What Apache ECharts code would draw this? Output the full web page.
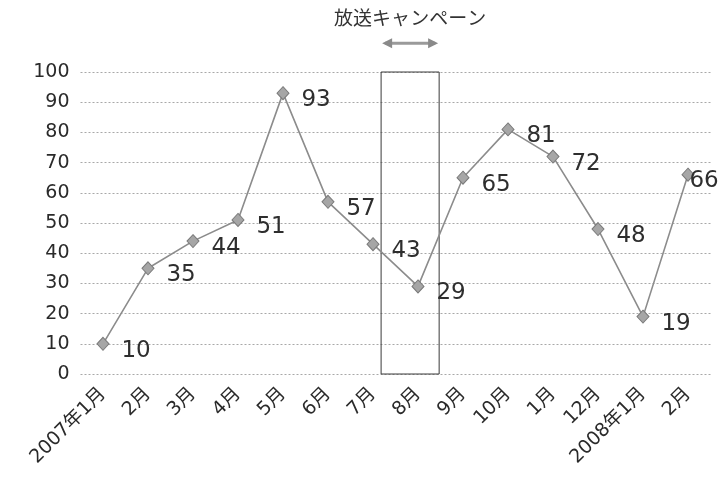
<!DOCTYPE html>
<html>
<head>
<meta charset="utf-8">
<script src="https://cdn.jsdelivr.net/npm/echarts@6/dist/echarts.min.js"></script>
<style>
  html, body { margin: 0; padding: 0; background: #fff; }
  #chart { width: 728px; height: 485px; }
</style>
</head>
<body>
<div id="chart"></div>
<script>
// Monthly values, Jan 2007 – Feb 2008
const months = ['2007年1月', '2月', '3月', '4月', '5月', '6月', '7月', '8月', '9月', '10月', '1月', '12月', '2008年1月', '2月'];
const values = [10, 35, 44, 51, 93, 57, 43, 29, 65, 81, 72, 48, 19, 66];
const yTicks = [0, 10, 20, 30, 40, 50, 60, 70, 80, 90, 100];

// Broadcast campaign period, in month-slot units along the category axis (0 = left edge)
const campaignSpan = [6.68, 7.97];
const campaignTitle = '放送キャンペーン';

const numFont = '"DejaVu Sans", "Noto Sans CJK JP", sans-serif';
const chart = echarts.init(document.getElementById('chart'), null, { renderer: 'canvas' });

const lastIdx = values.length - 1;
const seriesData = values.map((v, i) => i === lastIdx
  ? { value: v, label: { offset: [-17, 6] } }
  : v);

chart.setOption({
  animation: false,
  backgroundColor: '#fff',
  grid: { left: 80.5, right: 17.5, top: 72, bottom: 111 },
  xAxis: [
    {
      type: 'category',
      data: months,
      boundaryGap: true,
      axisLine: { show: false },
      axisTick: { show: false },
      axisLabel: {
        interval: 0, rotate: 45, margin: 17,
        fontSize: 19, color: '#2a2a2a', fontFamily: numFont
      },
      splitLine: { show: false }
    },
    {
      // slot scale used to place the campaign box
      type: 'value', min: 0, max: months.length, show: false
    }
  ],
  yAxis: {
    type: 'value',
    min: yTicks[0], max: yTicks[yTicks.length - 1], interval: 10,
    axisLine: { show: false },
    axisTick: { show: false },
    axisLabel: { fontSize: 19, color: '#2a2a2a', margin: 11, fontFamily: numFont },
    splitLine: { lineStyle: { color: '#a8a8a8', type: [2, 2], width: 1 } }
  },
  series: [
    {
      type: 'line',
      xAxisIndex: 1,
      data: [],
      silent: true,
      markArea: {
        silent: true,
        itemStyle: { color: 'rgba(0,0,0,0)', borderColor: '#3a3a3a', borderWidth: 1 },
        data: [[{ xAxis: campaignSpan[0], yAxis: 0 }, { xAxis: campaignSpan[1], yAxis: 100 }]]
      }
    },
    {
      type: 'line',
      data: seriesData,
      symbol: 'diamond',
      symbolSize: [12, 13],
      lineStyle: { color: '#8c8c8c', width: 1.6 },
      itemStyle: { color: '#a6a6a6', borderColor: '#7a7a7a', borderWidth: 1 },
      label: {
        show: true, position: 'right', distance: 12, offset: [0, 7],
        fontSize: 23, color: '#2e2e2e', fontFamily: numFont
      },
      z: 5
    }
  ]
});

// Campaign title and double-headed arrow above the box, placed via the slot scale
const xL = chart.convertToPixel({ xAxisIndex: 1 }, campaignSpan[0]);
const xR = chart.convertToPixel({ xAxisIndex: 1 }, campaignSpan[1]);
const xMid = (xL + xR) / 2;
const yArrow = chart.convertToPixel({ yAxisIndex: 0 }, 109.5);
const yTitle = chart.convertToPixel({ yAxisIndex: 0 }, 117.8);
const head = 10, half = 5;
chart.setOption({
  graphic: [
    {
      type: 'line',
      shape: { x1: xL + 4, y1: yArrow, x2: xR - 4, y2: yArrow },
      style: { stroke: '#9a9a9a', lineWidth: 3 }
    },
    {
      type: 'polygon',
      shape: { points: [[xL + 1, yArrow], [xL + 1 + head, yArrow - half], [xL + 1 + head, yArrow + half]] },
      style: { fill: '#8a8a8a' }
    },
    {
      type: 'polygon',
      shape: { points: [[xR - 1, yArrow], [xR - 1 - head, yArrow - half], [xR - 1 - head, yArrow + half]] },
      style: { fill: '#8a8a8a' }
    },
    {
      type: 'text',
      x: xMid, y: yTitle,
      style: {
        text: campaignTitle, align: 'center', verticalAlign: 'middle',
        fontSize: 19, fill: '#333', fontFamily: '"Noto Sans CJK JP", sans-serif'
      }
    }
  ]
});
</script>
</body>
</html>
